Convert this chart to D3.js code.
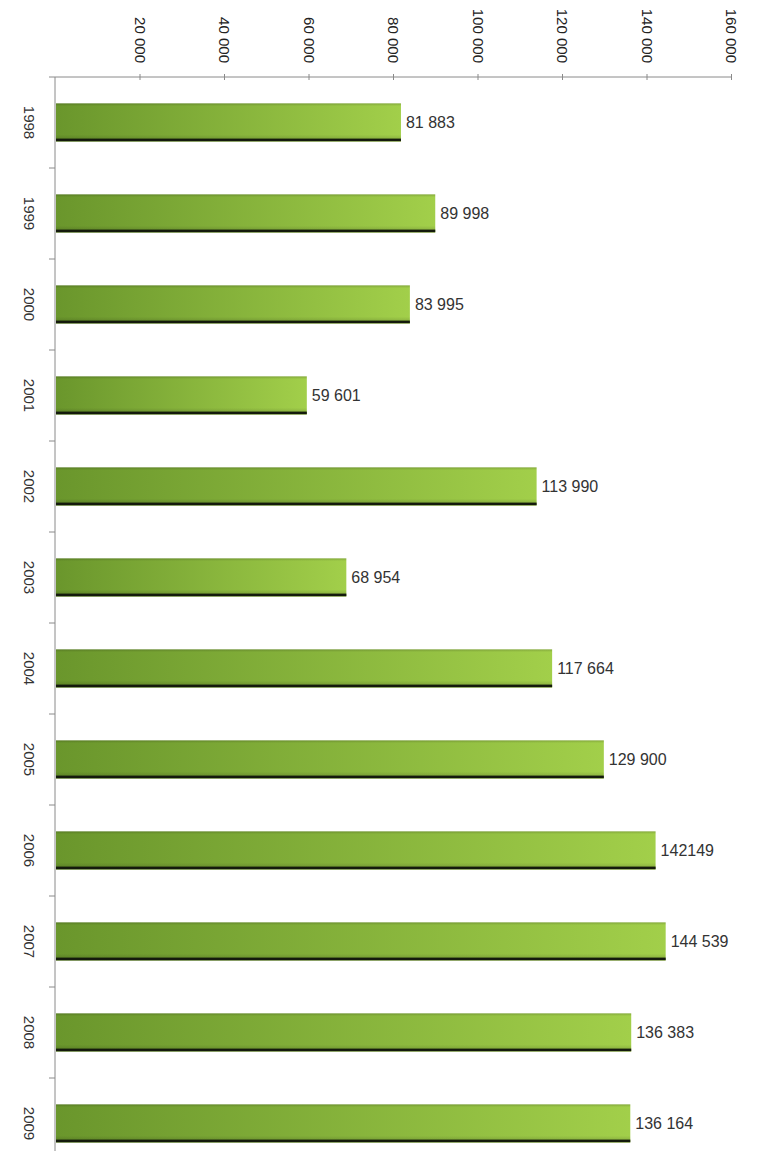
<!DOCTYPE html>
<html>
<head>
<meta charset="utf-8">
<script src="https://cdn.jsdelivr.net/npm/d3@7"></script>
<style>
  body { margin: 0; background: #fff; }
  svg { display: block; font-family: "Liberation Sans", Arial, sans-serif; }
</style>
</head>
<body>
<svg></svg>
<script>
let years = ['1998','1999','2000','2001','2002','2003','2004','2005','2006','2007','2008','2009']
let values = [81883, 89998, 83995, 59601, 113990, 68954, 117664, 129900, 142149, 144539, 136383, 136164]
// labels as printed on the chart (2006 has no thousands space)
let valueLabels = ['81 883','89 998','83 995','59 601','113 990','68 954','117 664','129 900','142149','144 539','136 383','136 164']
let tickValues = [20000, 40000, 60000, 80000, 100000, 120000, 140000, 160000]

let width = 765
let height = 1151

let svg = d3.select('svg')
    .attr('width', width)
    .attr('height', height)

let xScale = d3.scaleLinear()
    .domain([0, 160000])
    .range([55, 731])

let yScale = d3.scaleBand()
    .domain(years)
    .range([77, 77 + 91 * years.length])
    .paddingInner(0.58)
    .paddingOuter(0.29)

let defs = svg.append('defs')

let grad = defs.append('linearGradient')
    .attr('id', 'barGrad')
    .attr('x1', '0%').attr('x2', '100%')
    .attr('y1', '0%').attr('y2', '0%')
grad.append('stop').attr('offset', '0%').attr('stop-color', '#6a962c')
grad.append('stop').attr('offset', '100%').attr('stop-color', '#a2cf4a')

let shade = defs.append('linearGradient')
    .attr('id', 'barShade')
    .attr('x1', '0%').attr('x2', '0%')
    .attr('y1', '0%').attr('y2', '100%')
shade.append('stop').attr('offset', '0%').attr('stop-color', '#000').attr('stop-opacity', 0.18)
shade.append('stop').attr('offset', '7%').attr('stop-color', '#000').attr('stop-opacity', 0)
shade.append('stop').attr('offset', '82%').attr('stop-color', '#000').attr('stop-opacity', 0)
shade.append('stop').attr('offset', '100%').attr('stop-color', '#000').attr('stop-opacity', 0.22)

let drawAxes = () => {

    let xAxis = d3.axisTop(xScale)
        .tickValues(tickValues)
        .tickSizeInner(3)
        .tickSizeOuter(0)
        .tickFormat(d => d3.format(',')(d).replace(/,/g, ' '))

    let gx = svg.append('g')
        .attr('transform', 'translate(0,77)')
        .call(xAxis)

    gx.select('.domain')
        .attr('stroke', '#8a8a8a')
        .attr('d', 'M' + xScale.range()[0] + ',0H' + xScale.range()[1])
    gx.selectAll('.tick line')
        .attr('stroke', '#8a8a8a')
        .attr('y1', -3).attr('y2', 3)
    gx.selectAll('.tick text')
        .attr('transform', 'rotate(90)')
        .attr('x', -14)
        .attr('y', 0)
        .attr('dy', '0.35em')
        .attr('text-anchor', 'end')
        .attr('font-size', 15)
        .attr('fill', '#222')

    // left axis
    svg.append('line')
        .attr('x1', 55).attr('x2', 55)
        .attr('y1', 77).attr('y2', height)
        .attr('stroke', '#8a8a8a')

    svg.selectAll('.cat-tick')
        .data(d3.range(years.length + 1))
        .enter()
        .append('line')
        .attr('class', 'cat-tick')
        .attr('x1', 49).attr('x2', 55)
        .attr('y1', i => yScale.range()[0] + i * yScale.step())
        .attr('y2', i => yScale.range()[0] + i * yScale.step())
        .attr('stroke', '#8a8a8a')

    svg.selectAll('.year')
        .data(years)
        .enter()
        .append('text')
        .attr('class', 'year')
        .attr('transform', d => 'translate(29,' + (yScale(d) + yScale.bandwidth() / 2) + ') rotate(90)')
        .attr('text-anchor', 'middle')
        .attr('dy', '0.35em')
        .attr('font-size', 15)
        .attr('fill', '#333')
        .text(d => d)
}

let drawBars = () => {

    let bars = svg.selectAll('.bar')
        .data(years)
        .enter()
        .append('g')
        .attr('class', 'bar')

    bars.append('rect')
        .attr('x', xScale(0) + 1)
        .attr('y', d => yScale(d))
        .attr('width', (d, i) => xScale(values[i]) - xScale(0) - 1)
        .attr('height', yScale.bandwidth())
        .attr('fill', 'url(#barGrad)')

    bars.append('rect')
        .attr('x', xScale(0) + 1)
        .attr('y', d => yScale(d))
        .attr('width', (d, i) => xScale(values[i]) - xScale(0) - 1)
        .attr('height', yScale.bandwidth())
        .attr('fill', 'url(#barShade)')

    bars.append('rect')
        .attr('x', xScale(0) + 1)
        .attr('y', d => yScale(d) + yScale.bandwidth() - 3)
        .attr('width', (d, i) => xScale(values[i]) - xScale(0) - 1)
        .attr('height', 2.5)
        .attr('fill', '#141a0c')

    bars.append('text')
        .attr('x', (d, i) => xScale(values[i]) + 5)
        .attr('y', d => yScale(d) + yScale.bandwidth() / 2)
        .attr('dy', '0.35em')
        .attr('font-size', 16)
        .attr('fill', '#333')
        .text((d, i) => valueLabels[i])
}

drawAxes()
drawBars()
</script>
</body>
</html>
